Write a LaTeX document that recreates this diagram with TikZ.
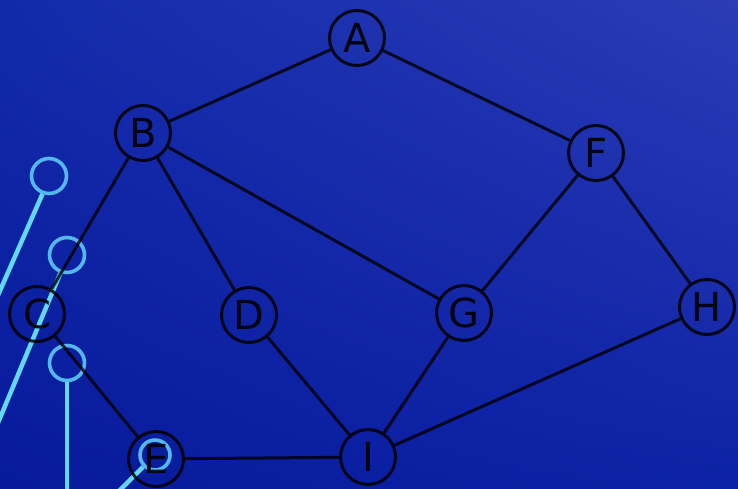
\documentclass[tikz,border=0pt]{standalone}
\usepackage{fontspec}
\setmainfont{DejaVu Sans}
\usetikzlibrary{shadings}
\begin{document}
\begin{tikzpicture}[x=1pt,y=-1pt,
  vert/.style={circle,draw=black,draw opacity=0.85,line width=3pt,minimum size=55pt,inner sep=0pt,
    font=\fontsize{40}{40}\selectfont,text opacity=0.9},
  edge/.style={draw=black,draw opacity=0.8,line width=3pt},
  wire/.style={draw=wirec,line width=4.5pt},
  ring/.style={circle,draw=ringc,line width=3.6pt,minimum size=35pt,inner sep=0pt}]
\definecolor{bgll}{HTML}{071A9C}
\definecolor{bgur}{HTML}{2B3CB6}
\definecolor{bgul}{HTML}{122AAA}
\definecolor{bglr}{HTML}{0C22A6}
\definecolor{wirec}{HTML}{62D8F2}
\definecolor{ringc}{HTML}{55B8EA}
\useasboundingbox (0,0) rectangle (738,488);
\shade[lower left=bgll,upper right=bgur,upper left=bgul,lower right=bglr] (0,0) rectangle (738,488);
% cyan decoration
\node[ring] (r1) at (49,176) {};
\node[ring] (r2) at (67,255) {};
\node[ring] (r3) at (67,363) {};
\node[ring,minimum size=30pt] (r4) at (155,455) {};
\coordinate (w1) at (-5,302);
\coordinate (w2) at (-5,430);
\coordinate (w3) at (67,492);
\coordinate (w4) at (118,492);
\draw[wire] (r1.250) -- (w1);
\draw[wire] (r2.250) -- (w2);
\draw[wire] (r3.south) -- (w3);
\draw[wire] (r4.225) -- (w4);
% graph
\node[vert] (A) at (357,38) {A};
\node[vert] (B) at (143,133) {B};
\node[vert] (F) at (596,153) {F};
\node[vert] (C) at (37,314) {C};
\node[vert] (D) at (249,315) {D};
\node[vert] (G) at (464,313) {G};
\node[vert] (H) at (707,307) {H};
\node[vert] (E) at (156,459) {E};
\node[vert] (I) at (368,457) {I};
\path[edge] (A) -- (B);
\path[edge] (A) -- (F);
\path[edge] (B) -- (C);
\path[edge] (B) -- (D);
\path[edge] (B) -- (G);
\path[edge] (F) -- (G);
\path[edge] (F) -- (H);
\path[edge] (C) -- (E);
\path[edge] (D) -- (I);
\path[edge] (G) -- (I);
\path[edge] (H) -- (I);
\path[edge] (E) -- (I);
\end{tikzpicture}
\end{document}
